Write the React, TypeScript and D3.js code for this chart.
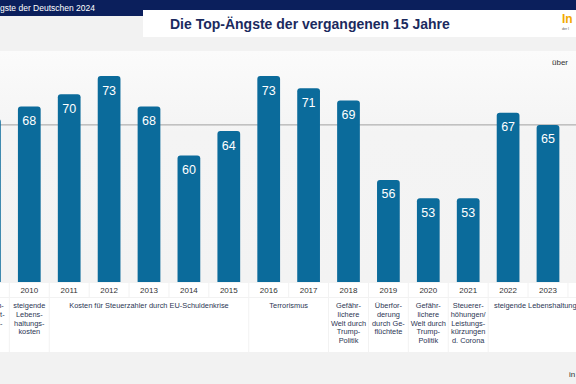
import React from 'react';
import * as d3 from 'd3';

// Chart data
const years = ['2009', '2010', '2011', '2012', '2013', '2014', '2015', '2016', '2017', '2018', '2019', '2020', '2021', '2022', '2023', '2024'];
const values = [66, 68, 70, 73, 68, 60, 64, 73, 71, 69, 56, 53, 53, 67, 65];
const referenceValue = 65;

// Topic per year span (first year, last year, wrapped lines)
const topicFrom = ['2009', '2010', '2011', '2016', '2018', '2019', '2020', '2021', '2022'];
const topicTo = ['2009', '2010', '2015', '2017', '2018', '2019', '2020', '2021', '2024'];
const topicLines = [
  ['Schlech-', 'tere Wirt-', 'schafts-', 'lage'],
  ['steigende', 'Lebens-', 'haltungs-', 'kosten'],
  ['Kosten für Steuerzahler durch EU-Schuldenkrise'],
  ['Terrorismus'],
  ['Gefähr-', 'lichere', 'Welt durch', 'Trump-', 'Politik'],
  ['Überfor-', 'derung', 'durch Ge-', 'flüchtete'],
  ['Gefähr-', 'lichere', 'Welt durch', 'Trump-', 'Politik'],
  ['Steuerer-', 'höhungen/', 'Leistungs-', 'kürzungen', 'd. Corona'],
  ['steigende Lebenshaltungskosten'],
];

const W = 576;
const H = 384;
const font = '"Liberation Sans", Arial, Helvetica, sans-serif';
const navy = '#0b1f5c';
const barColor = '#0b6b9b';

const plotTop = 51;
const baseY = 282;
const yearRowTop = 283;
const yearRowBottom = 297;
const descBottom = 352;

function topRoundedBar(x: number, y: number, w: number, h: number, r: number) {
  return `M${x},${y + h}V${y + r}Q${x},${y} ${x + r},${y}H${x + w - r}Q${x + w},${y} ${x + w},${y + r}V${y + h}Z`;
}

export default function App() {
  const x = d3.scaleBand<string>()
    .domain(years)
    .range([-30.55, -30.55 + years.length * 39.9])
    .padding(0);
  const step = x.bandwidth();
  const barW = step * 0.57;
  const cx = (yr: string) => (x(yr) as number) + step / 2;
  const onPage = (yr: string) => cx(yr) > 0 && cx(yr) < W;

  const y = d3.scaleLinear().domain([39.3, 73]).range([baseY, 76]);

  return (
    <svg width={W} height={H} style={{ position: 'absolute', left: 0, top: 0, display: 'block' }} fontFamily={font}>
      <defs>
        <linearGradient id="plotbg" x1="0" y1="0" x2="0" y2="1">
          <stop offset="0" stopColor="#fbfbfb" />
          <stop offset="0.35" stopColor="#f4f4f4" />
          <stop offset="1" stopColor="#f3f3f3" />
        </linearGradient>
      </defs>

      {/* page background */}
      <rect x={0} y={0} width={W} height={H} fill="#f2f2f2" />
      <rect x={0} y={plotTop} width={W} height={yearRowTop - plotTop} fill="url(#plotbg)" />

      {/* header */}
      <rect x={0} y={0} width={W} height={10} fill={navy} />
      <rect x={0} y={0} width={143} height={16} fill={navy} />
      <rect x={143} y={10} width={W - 143} height={27} fill="#ffffff" />
      <text x={0} y={11} fontSize={8.5} fill="#ffffff">gste der Deutschen 2024</text>
      <text x={170} y={29} fontSize={14} fontWeight="bold" fill="#1b2a5e">Die Top-Ängste der vergangenen 15 Jahre</text>
      <text x={562} y={23} fontSize={12} fontWeight="bold" fill="#f2a900">In</text>
      <text x={562} y={30} fontSize={3.5} fill="#555">der I</text>
      <text x={552} y={65} fontSize={8} fill="#333">über</text>

      {/* reference line */}
      <line x1={0} x2={W} y1={y(referenceValue)} y2={y(referenceValue)} stroke="#a0a0a0" strokeWidth={1} />

      {/* bars */}
      {values.map((v, i) => {
        const yr = years[i];
        const bx = cx(yr) - barW / 2;
        return (
          <g key={yr}>
            <path d={topRoundedBar(bx, y(v), barW, baseY - y(v), 3)} fill={barColor} />
            {onPage(yr) && (
              <text x={cx(yr)} y={y(v) + 18.5} textAnchor="middle" fontSize={12.5} fill="#ffffff">{v}</text>
            )}
          </g>
        );
      })}

      {/* year row */}
      {years.map(yr => (
        <g key={'yr' + yr}>
          <rect x={(x(yr) as number) + 0.5} y={yearRowTop} width={step - 1} height={yearRowBottom - yearRowTop} fill="#ffffff" />
          {onPage(yr) && (
            <text x={cx(yr)} y={293} textAnchor="middle" fontSize={8} fill="#333">{yr}</text>
          )}
        </g>
      ))}

      {/* topic row */}
      {topicLines.map((lines, i) => {
        const x0 = x(topicFrom[i]) as number;
        const x1 = (x(topicTo[i]) as number) + step;
        const mid = (x0 + x1) / 2;
        return (
          <g key={'t' + i}>
            <rect x={x0 + 0.5} y={yearRowBottom + 1} width={x1 - x0 - 1} height={descBottom - yearRowBottom - 1} fill="#ffffff" />
            <text x={mid} y={308} textAnchor="middle" fontSize={7.4} fill="#2b3553">
              {lines.map((l, j) => (
                <tspan key={j} x={mid} dy={j === 0 ? 0 : 8.8}>{l}</tspan>
              ))}
            </text>
          </g>
        );
      })}

      <text x={569} y={377} fontSize={8} fill="#333">in</text>
    </svg>
  );
}
